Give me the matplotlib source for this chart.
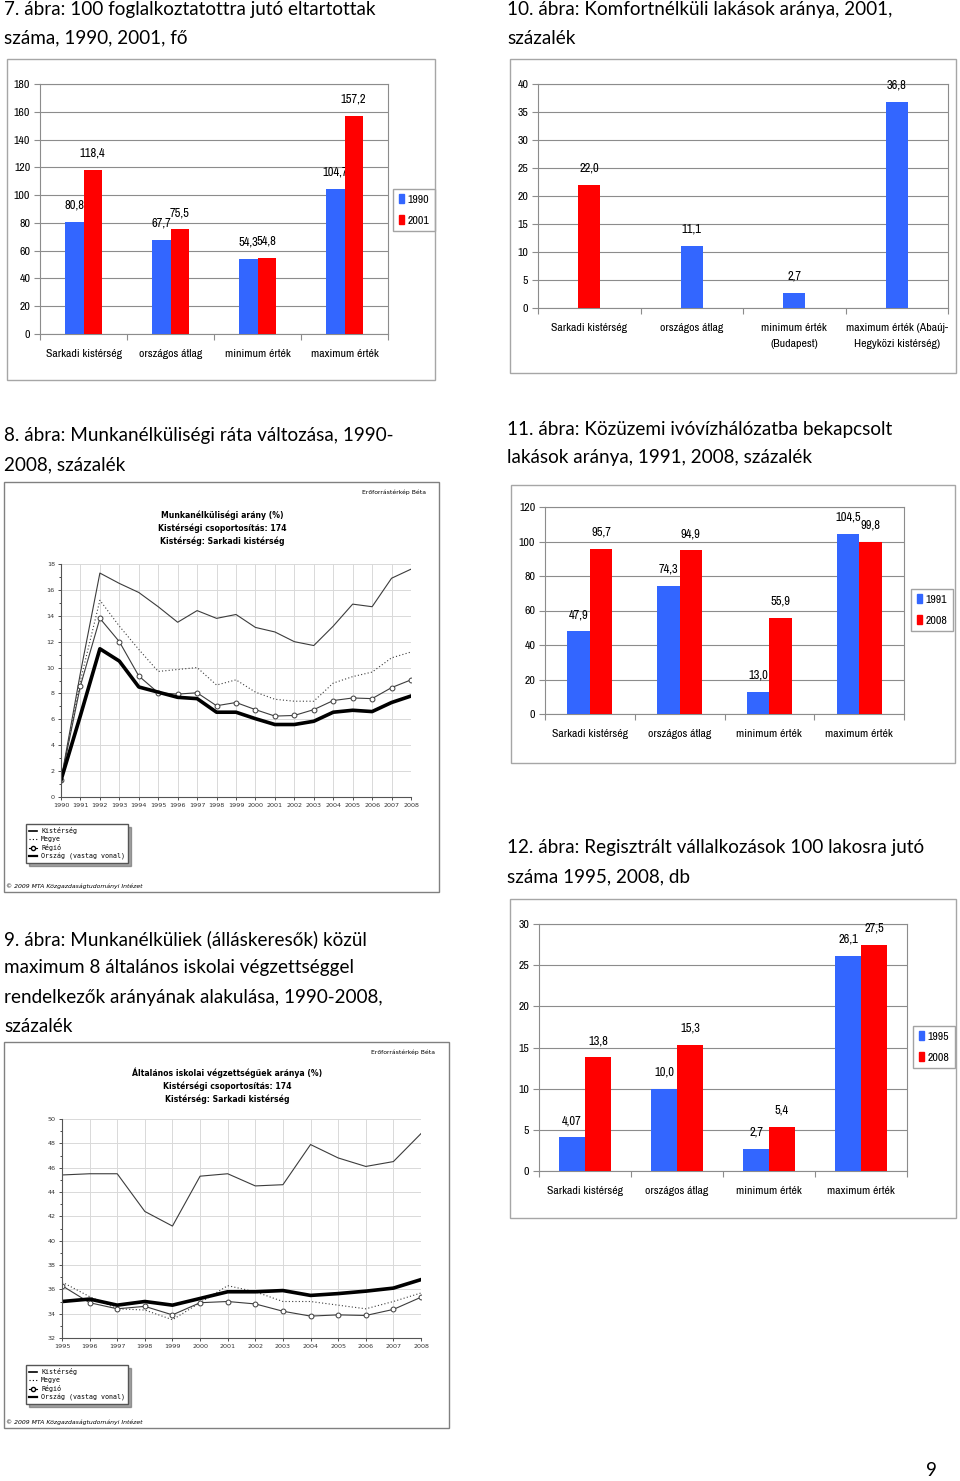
import numpy as np
import matplotlib
matplotlib.use('Agg')
import matplotlib.pyplot as plt
from matplotlib import font_manager
from matplotlib.patches import Rectangle, Patch
from matplotlib.lines import Line2D

W, H = 960, 1481

# ---- data ----
cats = ['Sarkadi kistérség', 'országos átlag', 'minimum érték', 'maximum érték']

# 7. abra
fig7_series = ['1990', '2001']
fig7_1990 = [80.8, 67.7, 54.3, 104.7]
fig7_2001 = [118.4, 75.5, 54.8, 157.2]

# 10. abra
fig10_cats = ['Sarkadi kistérség', 'országos átlag', 'minimum érték\n(Budapest)',
              'maximum érték (Abaúj-\nHegyközi kistérség)']
fig10_vals = [22.0, 11.1, 2.7, 36.8]

# 11. abra
fig11_series = ['1991', '2008']
fig11_1991 = [47.9, 74.3, 13.0, 104.5]
fig11_2008 = [95.7, 94.9, 55.9, 99.8]

# 12. abra
fig12_series = ['1995', '2008']
fig12_1995 = [4.07, 10.0, 2.7, 26.1]
fig12_2008 = [13.8, 15.3, 5.4, 27.5]

# 8. abra - munkanelkulisegi arany
fig8_years = list(range(1990, 2009))
fig8_kisterseg = [1.3, 9.6, 17.3, 16.5, 15.8, 14.7, 13.5, 14.4, 13.8, 14.1,
                  13.1, 12.75, 12.0, 11.7, 13.2, 14.9, 14.7, 16.9, 17.6]
fig8_megye = [1.3, 9.0, 15.2, 13.2, 11.4, 9.7, 9.85, 10.0, 8.65, 9.05,
              8.1, 7.55, 7.4, 7.4, 8.8, 9.3, 9.65, 10.75, 11.2]
fig8_regio = [1.3, 8.6, 13.8, 12.0, 9.35, 8.05, 7.95, 8.05, 7.05, 7.3,
              6.75, 6.25, 6.3, 6.75, 7.45, 7.65, 7.6, 8.45, 9.05]
fig8_orszag = [1.3, 6.3, 11.45, 10.5, 8.5, 8.1, 7.7, 7.6, 6.55, 6.55,
               6.05, 5.6, 5.6, 5.85, 6.55, 6.7, 6.6, 7.3, 7.8]

# 9. abra - max 8 altalanos
fig9_years = list(range(1995, 2009))
fig9_kisterseg = [45.4, 45.5, 45.5, 42.4, 41.2, 45.3, 45.5, 44.5, 44.6, 47.9,
                  46.8, 46.1, 46.5, 48.8]
fig9_megye = [36.6, 35.4, 34.4, 34.3, 33.5, 34.9, 36.3, 35.8, 35.0, 35.0,
              34.7, 34.4, 35.0, 35.7]
fig9_regio = [36.3, 34.9, 34.4, 34.6, 33.9, 34.9, 35.0, 34.8, 34.2, 33.8,
              33.9, 33.85, 34.35, 35.35]
fig9_orszag = [35.0, 35.2, 34.7, 35.0, 34.7, 35.25, 35.8, 35.8, 35.9, 35.5,
               35.65, 35.85, 36.1, 36.8]

line_legend = ['Kistérség', 'Megye', 'Régió', 'Ország (vastag vonal)']

BLUE = '#3366ff'
RED = '#ff0000'
GRAY = '#8c8c8c'
head = 'Lato'


def pick_narrow():
    # look for any condensed face; fall back to plain Liberation Sans
    fl = font_manager.fontManager.ttflist
    for f in fl:
        if ('Narrow' in f.name or 'Condensed' in f.name) and f.weight in (400, 'normal', 'regular') \
                and f.style == 'normal':
            return font_manager.FontProperties(fname=f.fname), True
    for f in fl:
        if str(f.stretch) in ('condensed', 'semi-condensed', 'extra-condensed') and f.style == 'normal' \
                and f.weight in (400, 'normal', 'regular'):
            return font_manager.FontProperties(fname=f.fname), True
    return font_manager.FontProperties(family='Liberation Sans'), False


NARROW, HAS_NARROW = pick_narrow()


def nfont(size):
    fp = NARROW.copy()
    fp.set_size(size if HAS_NARROW else size * 0.85)
    return fp


fig = plt.figure(figsize=(W / 100, H / 100), dpi=100)


def px(x0, y0, x1, y1):
    # pixel box (top-left origin) -> figure fraction rect
    return [x0 / W, 1 - y1 / H, (x1 - x0) / W, (y1 - y0) / H]


def frame(x0, y0, x1, y1, color='#a6a6a6'):
    r = px(x0, y0, x1, y1)
    fig.add_artist(Rectangle((r[0], r[1]), r[2], r[3], transform=fig.transFigure,
                             fill=False, edgecolor=color, lw=1))


def ftext(x, y, s, **kw):
    fig.text(x / W, 1 - y / H, s, **kw)


def fmt(v):
    return str(v).replace('.', ',')


def bar_chart(rect, labels, series, colors, ymax, step, width,
              legend_names=None, legend_center=None, fs=8.5):
    ax = fig.add_axes(px(*rect))
    x = np.arange(len(labels))
    n = len(series)
    for i, vals in enumerate(series):
        off = (i - (n - 1) / 2) * width
        bars = ax.bar(x + off, vals, width, color=colors[i], zorder=3)
        ax.bar_label(bars, labels=[fmt(v) for v in vals], padding=8,
                     fontproperties=nfont(fs + 0.5))
    ax.set_xlim(-0.5, len(labels) - 0.5)
    ax.set_ylim(0, ymax)
    ax.set_yticks(np.arange(0, ymax + step / 2, step))
    ax.yaxis.grid(True, color=GRAY, lw=0.8)
    ax.set_axisbelow(True)
    for sp in ax.spines.values():
        sp.set_color(GRAY)
    ax.set_xticks(np.arange(-0.5, len(labels), 1))
    ax.set_xticklabels([])
    ax.set_xticks(x, minor=True)
    ax.set_xticklabels(labels, minor=True, fontproperties=nfont(fs), linespacing=1.75)
    ax.tick_params(axis='x', which='major', length=4, color=GRAY)
    ax.tick_params(axis='x', which='minor', length=0, pad=11)
    ax.tick_params(axis='y', length=4, color=GRAY, pad=3)
    for t in ax.get_yticklabels():
        t.set_fontproperties(nfont(fs))
    if legend_names:
        handles = [Patch(color=c) for c in colors]
        ax.legend(handles, legend_names, loc='center',
                  bbox_to_anchor=(legend_center[0] / W, 1 - legend_center[1] / H),
                  bbox_transform=fig.transFigure, fancybox=False, edgecolor=GRAY,
                  handlelength=0.45, handleheight=0.7, handletextpad=0.3,
                  borderpad=0.5, labelspacing=0.9, borderaxespad=0,
                  prop=nfont(fs))
    return ax


def line_chart(rect, years, kist, megye, regio, orszag, ylim, title, title_x,
               title_y, beta_xy, leg_xy, copy_xy):
    ax = fig.add_axes(px(*rect))
    ax.plot(years, kist, color='#3c3c3c', lw=0.8)
    ax.plot(years, megye, color='#3c3c3c', lw=0.8, ls=(0, (1, 2)))
    ax.plot(years, regio, color='#3c3c3c', lw=0.8, marker='o', ms=3.5,
            mfc='white', mec='#3c3c3c', mew=0.7)
    ax.plot(years, orszag, color='black', lw=2.6)
    ax.set_xlim(years[0], years[-1])
    ax.set_ylim(*ylim)
    ax.set_xticks(years)
    ax.set_yticks(np.arange(ylim[0], ylim[1] + 1, 2))
    ax.set_yticks(np.arange(ylim[0], ylim[1] + 0.5, 1), minor=True)
    ax.grid(True, color='#d9d9d9', lw=0.7)
    ax.set_axisbelow(True)
    ax.spines['top'].set_visible(False)
    ax.spines['right'].set_visible(False)
    ax.spines['left'].set_color('#555555')
    ax.spines['bottom'].set_color('#555555')
    ax.tick_params(labelsize=4.6, length=2.5, width=0.6, pad=2, colors='#333333')
    ax.tick_params(which='minor', length=1.5, width=0.5)
    for i, line in enumerate(title):
        ftext(title_x, title_y + i * 13, line, ha='center', va='center',
              fontsize=5.6, fontweight='bold', family='DejaVu Sans')
    ftext(beta_xy[0], beta_xy[1], 'Erőforrástérkép Béta', ha='right', va='center',
          fontsize=4.4, family='DejaVu Sans')
    ftext(copy_xy[0], copy_xy[1], '© 2009 MTA Közgazdaságtudományi Intézet',
          ha='left', va='center', fontsize=4.4, style='italic', family='DejaVu Sans')
    handles = [Line2D([], [], color='black', lw=1.2),
               Line2D([], [], color='black', lw=0.8, ls=(0, (1, 2))),
               Line2D([], [], color='black', lw=0.8, marker='o', ms=3, mfc='white'),
               Line2D([], [], color='black', lw=1.6)]
    ax.legend(handles, line_legend, loc='upper left',
              bbox_to_anchor=(leg_xy[0] / W, 1 - leg_xy[1] / H),
              bbox_transform=fig.transFigure, fancybox=False, edgecolor='#555555',
              shadow=True, handlelength=1.2, handletextpad=0.6, borderpad=0.45,
              labelspacing=0.3, borderaxespad=0,
              prop={'family': 'DejaVu Sans Mono', 'size': 4.8})
    return ax


# ---- headings ----
hkw = dict(fontsize=13.6, family=head, va='center', ha='left', color='black')
ftext(4, 10, '7. ábra: 100 foglalkoztatottra jutó eltartottak', **hkw)
ftext(4, 38, 'száma, 1990, 2001, fő', **hkw)
ftext(507, 10, '10. ábra: Komfortnélküli lakások aránya, 2001,', **hkw)
ftext(507, 38, 'százalék', **hkw)
ftext(4, 436, '8. ábra: Munkanélküliségi ráta változása, 1990-', **hkw)
ftext(4, 465, '2008, százalék', **hkw)
ftext(507, 429, '11. ábra: Közüzemi ivóvízhálózatba bekapcsolt', **hkw)
ftext(507, 458, 'lakások aránya, 1991, 2008, százalék', **hkw)
ftext(507, 848, '12. ábra: Regisztrált vállalkozások 100 lakosra jutó', **hkw)
ftext(507, 877, 'száma 1995, 2008, db', **hkw)
ftext(4, 939, '9. ábra: Munkanélküliek (álláskeresők) közül', **hkw)
ftext(4, 968, 'maximum 8 általános iskolai végzettséggel', **hkw)
ftext(4, 997, 'rendelkezők arányának alakulása, 1990-2008,', **hkw)
ftext(4, 1026, 'százalék', **hkw)
ftext(931, 1470, '9', fontsize=13.6, family=head, va='center', ha='center')

# ---- 7. abra ----
frame(7, 59, 435, 380)
bar_chart((40, 84, 388, 334), cats, [fig7_1990, fig7_2001], [BLUE, RED],
          180, 20, 0.21, fig7_series, (414, 210))

# ---- 10. abra ----
frame(510, 59, 956, 373)
bar_chart((538, 84, 948, 308), fig10_cats, [fig10_vals],
          [[RED, BLUE, BLUE, BLUE]], 40, 5, 0.21)

# ---- 11. abra ----
frame(511, 485, 955, 763)
bar_chart((545, 507, 904, 714), cats, [fig11_1991, fig11_2008], [BLUE, RED],
          120, 20, 0.25, fig11_series, (932, 610))

# ---- 12. abra ----
frame(510, 899, 956, 1218)
bar_chart((539, 924, 907, 1171), cats, [fig12_1995, fig12_2008], [BLUE, RED],
          30, 5, 0.28, fig12_series, (934, 1047))

# ---- 8. abra ----
frame(4, 482, 439, 892, color='#808080')
line_chart((61, 564, 411, 797), fig8_years, fig8_kisterseg, fig8_megye,
           fig8_regio, fig8_orszag, (0, 18),
           ['Munkanélküliségi arány (%)', 'Kistérségi csoportosítás: 174',
            'Kistérség: Sarkadi kistérség'], 222, 515, (426, 492), (26, 824), (6, 886))

# ---- 9. abra ----
frame(4, 1042, 449, 1428, color='#808080')
line_chart((62, 1119, 421, 1338), fig9_years, fig9_kisterseg, fig9_megye,
           fig9_regio, fig9_orszag, (32, 50),
           ['Általános iskolai végzettségűek aránya (%)', 'Kistérségi csoportosítás: 174',
            'Kistérség: Sarkadi kistérség'], 227, 1073, (435, 1052), (26, 1365), (6, 1422))

fig.savefig('out.png', dpi=100)
